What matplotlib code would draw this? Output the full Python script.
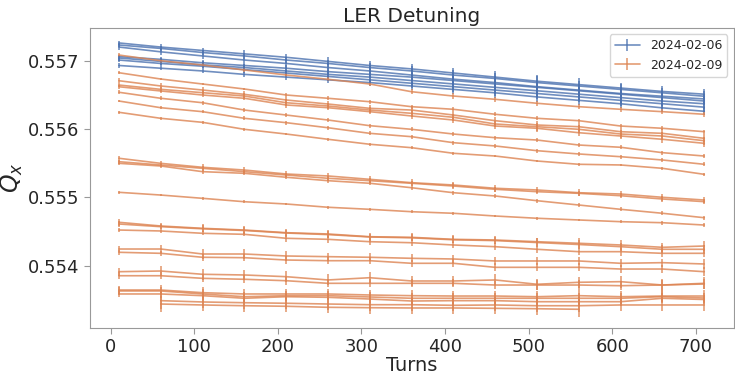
import matplotlib
matplotlib.use("Agg")
import matplotlib.pyplot as plt
import seaborn as sns

turns = [10, 60, 110, 160, 210, 260, 310, 360, 410, 460, 510, 560, 610, 660, 710]
turns_late = turns[1:]
turns_short = turns[1:12]

# 2024-02-06 tunes
blue_q = [
    [0.55726, 0.55720, 0.55715, 0.55710, 0.55705, 0.55699, 0.55693, 0.55688, 0.55682, 0.55676, 0.55670, 0.55665, 0.55660, 0.55655, 0.55651],
    [0.55723, 0.55718, 0.55712, 0.55707, 0.55701, 0.55696, 0.55690, 0.55685, 0.55679, 0.55674, 0.55668, 0.55663, 0.55658, 0.55653, 0.55648],
    [0.55720, 0.55713, 0.55707, 0.55701, 0.55696, 0.55690, 0.55685, 0.55679, 0.55673, 0.55668, 0.55662, 0.55657, 0.55652, 0.55648, 0.55644],
    [0.55706, 0.55702, 0.55697, 0.55693, 0.55689, 0.55684, 0.55680, 0.55676, 0.55671, 0.55666, 0.55661, 0.55656, 0.55651, 0.55646, 0.55641],
    [0.55704, 0.55699, 0.55694, 0.55690, 0.55685, 0.55680, 0.55676, 0.55671, 0.55666, 0.55661, 0.55656, 0.55651, 0.55646, 0.55641, 0.55637],
    [0.55701, 0.55696, 0.55692, 0.55687, 0.55682, 0.55677, 0.55672, 0.55667, 0.55662, 0.55657, 0.55652, 0.55647, 0.55642, 0.55637, 0.55632],
    [0.55693, 0.55689, 0.55685, 0.55680, 0.55676, 0.55672, 0.55668, 0.55663, 0.55658, 0.55653, 0.55647, 0.55642, 0.55637, 0.55631, 0.55626],
]
blue_err = [
    [3e-5, 4e-5, 4e-5, 5e-5, 5e-5, 6e-5, 6e-5, 7e-5, 8e-5, 9e-5, 9e-5, 9e-5, 8e-5, 8e-5, 7e-5],
    [3e-5, 4e-5, 4e-5, 4e-5, 5e-5, 5e-5, 6e-5, 7e-5, 8e-5, 8e-5, 9e-5, 8e-5, 8e-5, 7e-5, 7e-5],
    [4e-5, 4e-5, 5e-5, 5e-5, 5e-5, 6e-5, 7e-5, 8e-5, 9e-5, 10e-5, 10e-5, 9e-5, 9e-5, 8e-5, 8e-5],
    [3e-5, 3e-5, 4e-5, 4e-5, 5e-5, 5e-5, 6e-5, 6e-5, 7e-5, 8e-5, 8e-5, 8e-5, 7e-5, 7e-5, 6e-5],
    [4e-5, 5e-5, 5e-5, 5e-5, 6e-5, 6e-5, 7e-5, 8e-5, 9e-5, 10e-5, 9e-5, 9e-5, 8e-5, 8e-5, 8e-5],
    [3e-5, 4e-5, 4e-5, 5e-5, 5e-5, 6e-5, 6e-5, 7e-5, 8e-5, 9e-5, 8e-5, 8e-5, 8e-5, 7e-5, 7e-5],
    [3e-5, 3e-5, 3e-5, 4e-5, 4e-5, 5e-5, 5e-5, 6e-5, 7e-5, 7e-5, 7e-5, 7e-5, 6e-5, 6e-5, 6e-5],
]

# 2024-02-09 tunes
orange_q = [
    [0.557083, 0.557000, 0.556937, 0.556864, 0.556791, 0.556728, 0.556659, 0.556546, 0.556483, 0.556435, 0.556377, 0.556327, 0.556289, 0.556254, 0.556216],
    [0.556824, 0.556732, 0.556659, 0.556586, 0.556498, 0.556450, 0.556400, 0.556327, 0.556289, 0.556216, 0.556157, 0.556122, 0.556044, 0.556011, 0.555961],
    [0.556707, 0.556630, 0.556571, 0.556508, 0.556425, 0.556366, 0.556303, 0.556278, 0.556205, 0.556122, 0.556059, 0.556034, 0.555961, 0.555937, 0.555864],
    [0.556644, 0.556581, 0.556532, 0.556483, 0.556385, 0.556337, 0.556278, 0.556230, 0.556172, 0.556074, 0.556034, 0.555996, 0.555927, 0.555898, 0.555829],
    [0.556619, 0.556557, 0.556498, 0.556450, 0.556352, 0.556312, 0.556254, 0.556191, 0.556132, 0.556044, 0.556011, 0.555946, 0.555898, 0.555850, 0.555791],
    [0.556538, 0.556450, 0.556385, 0.556278, 0.556205, 0.556132, 0.556049, 0.555996, 0.555927, 0.555873, 0.555839, 0.555766, 0.555733, 0.555654, 0.555605],
    [0.556410, 0.556312, 0.556254, 0.556157, 0.556093, 0.556019, 0.555937, 0.555888, 0.555800, 0.555752, 0.555683, 0.555635, 0.555595, 0.555547, 0.555484],
    [0.556245, 0.556157, 0.556098, 0.555996, 0.555927, 0.555850, 0.555777, 0.555727, 0.555645, 0.555605, 0.555532, 0.555484, 0.555474, 0.555425, 0.555337],
    [0.555572, 0.555498, 0.555440, 0.555400, 0.555342, 0.555313, 0.555264, 0.555215, 0.555181, 0.555133, 0.555108, 0.555068, 0.555049, 0.555001, 0.554961],
    [0.555522, 0.555474, 0.555425, 0.555376, 0.555327, 0.555279, 0.555244, 0.555206, 0.555166, 0.555118, 0.555083, 0.555059, 0.555024, 0.554976, 0.554937],
    [0.555498, 0.555459, 0.555376, 0.555352, 0.555294, 0.555244, 0.555206, 0.555141, 0.555068, 0.555020, 0.554951, 0.554888, 0.554825, 0.554767, 0.554702],
    [0.555074, 0.555034, 0.554986, 0.554936, 0.554903, 0.554855, 0.554825, 0.554790, 0.554767, 0.554727, 0.554694, 0.554669, 0.554644, 0.554629, 0.554595],
    [0.554635, 0.554581, 0.554547, 0.554522, 0.554483, 0.554464, 0.554424, 0.554415, 0.554386, 0.554376, 0.554351, 0.554328, 0.554303, 0.554269, 0.554288],
    [0.554610, 0.554571, 0.554540, 0.554515, 0.554478, 0.554455, 0.554420, 0.554408, 0.554379, 0.554367, 0.554339, 0.554310, 0.554278, 0.554240, 0.554240],
    [0.554522, 0.554508, 0.554474, 0.554459, 0.554401, 0.554386, 0.554351, 0.554336, 0.554303, 0.554278, 0.554240, 0.554205, 0.554205, 0.554181, 0.554181],
    [0.554244, 0.554244, 0.554171, 0.554171, 0.554142, 0.554132, 0.554123, 0.554108, 0.554098, 0.554069, 0.554069, 0.554069, 0.554035, 0.554044, 0.554025],
    [0.554196, 0.554181, 0.554123, 0.554117, 0.554083, 0.554073, 0.554073, 0.554035, 0.554035, 0.553976, 0.553976, 0.553976, 0.553951, 0.553951, 0.553912],
    [0.553912, 0.553922, 0.553874, 0.553864, 0.553839, 0.553791, 0.553824, 0.553776, 0.553776, 0.553791, 0.553728, 0.553757, 0.553766, 0.553717, 0.553742],
    [0.553853, 0.553853, 0.553815, 0.553801, 0.553780, 0.553742, 0.553742, 0.553742, 0.553742, 0.553717, 0.553717, 0.553717, 0.553707, 0.553717, 0.553732],
    [0.553644, 0.553644, 0.553605, 0.553586, 0.553586, 0.553586, 0.553571, 0.553561, 0.553556, 0.553556, 0.553546, 0.553561, 0.553546, 0.553556, 0.553556],
    [0.553630, 0.553630, 0.553586, 0.553546, 0.553561, 0.553561, 0.553542, 0.553523, 0.553523, 0.553523, 0.553523, 0.553523, 0.553523, 0.553546, 0.553527],
    [0.553586, 0.553586, 0.553561, 0.553523, 0.553546, 0.553537, 0.553512, 0.553483, 0.553488, 0.553488, 0.553473, 0.553473, 0.553473, 0.553523, 0.553505],
]
orange_err = [
    [3e-5, 3e-5, 3e-5, 3e-5, 3e-5, 3e-5, 3e-5, 4e-5, 4e-5, 4e-5, 4e-5, 4e-5, 4e-5, 4e-5, 4e-5],
    [2e-5, 2e-5, 2e-5, 2e-5, 3e-5, 3e-5, 3e-5, 3e-5, 3e-5, 3e-5, 3e-5, 3e-5, 3e-5, 3e-5, 3e-5],
    [4e-5, 4e-5, 5e-5, 5e-5, 5e-5, 5e-5, 5e-5, 6e-5, 6e-5, 6e-5, 6e-5, 6e-5, 6e-5, 6e-5, 6e-5],
    [3e-5, 4e-5, 4e-5, 4e-5, 5e-5, 5e-5, 5e-5, 5e-5, 5e-5, 5e-5, 6e-5, 6e-5, 6e-5, 6e-5, 6e-5],
    [3e-5, 3e-5, 3e-5, 3e-5, 4e-5, 4e-5, 4e-5, 4e-5, 5e-5, 5e-5, 5e-5, 5e-5, 5e-5, 5e-5, 5e-5],
    [3e-5, 3e-5, 3e-5, 3e-5, 3e-5, 3e-5, 3e-5, 3e-5, 3e-5, 3e-5, 3e-5, 3e-5, 3e-5, 3e-5, 3e-5],
    [2e-5, 2e-5, 2e-5, 3e-5, 3e-5, 3e-5, 3e-5, 3e-5, 3e-5, 3e-5, 3e-5, 3e-5, 3e-5, 3e-5, 3e-5],
    [2e-5, 2e-5, 2e-5, 2e-5, 2e-5, 2e-5, 2e-5, 2e-5, 2e-5, 2e-5, 2e-5, 2e-5, 2e-5, 2e-5, 2e-5],
    [4e-5, 4e-5, 5e-5, 5e-5, 4e-5, 4e-5, 5e-5, 5e-5, 5e-5, 5e-5, 5e-5, 5e-5, 5e-5, 5e-5, 5e-5],
    [3e-5, 3e-5, 3e-5, 3e-5, 3e-5, 4e-5, 4e-5, 4e-5, 4e-5, 4e-5, 4e-5, 4e-5, 4e-5, 4e-5, 4e-5],
    [3e-5, 3e-5, 3e-5, 3e-5, 3e-5, 3e-5, 3e-5, 3e-5, 3e-5, 3e-5, 3e-5, 3e-5, 3e-5, 3e-5, 3e-5],
    [2e-5, 2e-5, 2e-5, 2e-5, 2e-5, 2e-5, 2e-5, 2e-5, 2e-5, 2e-5, 2e-5, 2e-5, 2e-5, 3e-5, 3e-5],
    [5e-5, 5e-5, 6e-5, 6e-5, 6e-5, 6e-5, 6e-5, 6e-5, 6e-5, 6e-5, 6e-5, 7e-5, 7e-5, 7e-5, 7e-5],
    [4e-5, 4e-5, 5e-5, 5e-5, 5e-5, 5e-5, 5e-5, 5e-5, 5e-5, 5e-5, 6e-5, 6e-5, 6e-5, 6e-5, 6e-5],
    [3e-5, 3e-5, 3e-5, 3e-5, 5e-5, 5e-5, 5e-5, 5e-5, 5e-5, 5e-5, 5e-5, 5e-5, 6e-5, 6e-5, 6e-5],
    [5e-5, 6e-5, 7e-5, 7e-5, 7e-5, 6e-5, 6e-5, 6e-5, 6e-5, 6e-5, 6e-5, 6e-5, 6e-5, 6e-5, 7e-5],
    [4e-5, 4e-5, 5e-5, 5e-5, 6e-5, 5e-5, 5e-5, 5e-5, 6e-5, 6e-5, 6e-5, 6e-5, 6e-5, 6e-5, 7e-5],
    [6e-5, 7e-5, 8e-5, 8e-5, 8e-5, 8e-5, 8e-5, 8e-5, 8e-5, 8e-5, 8e-5, 8e-5, 9e-5, 9e-5, 9e-5],
    [5e-5, 5e-5, 6e-5, 6e-5, 6e-5, 6e-5, 6e-5, 6e-5, 6e-5, 6e-5, 7e-5, 7e-5, 7e-5, 7e-5, 8e-5],
    [6e-5, 7e-5, 8e-5, 8e-5, 8e-5, 8e-5, 8e-5, 8e-5, 8e-5, 8e-5, 9e-5, 9e-5, 9e-5, 9e-5, 9e-5],
    [6e-5, 6e-5, 7e-5, 7e-5, 7e-5, 7e-5, 7e-5, 7e-5, 8e-5, 8e-5, 8e-5, 8e-5, 8e-5, 8e-5, 8e-5],
    [5e-5, 6e-5, 6e-5, 6e-5, 6e-5, 6e-5, 6e-5, 6e-5, 6e-5, 6e-5, 7e-5, 7e-5, 7e-5, 7e-5, 7e-5],
]

# two scans that start at turn 60
orange_late_q = [0.553488, 0.553469, 0.553458, 0.553450, 0.553439, 0.553429, 0.553429, 0.553420, 0.553425, 0.553414, 0.553414, 0.553425, 0.553425, 0.553425]
orange_late_err = [12e-5, 9e-5, 9e-5, 9e-5, 9e-5, 9e-5, 9e-5, 9e-5, 9e-5, 9e-5, 9e-5, 9e-5, 9e-5, 9e-5]
orange_short_q = [0.553439, 0.553425, 0.553414, 0.553406, 0.553391, 0.553385, 0.553381, 0.553381, 0.553376, 0.553370, 0.553362]
orange_short_err = [12e-5, 9e-5, 9e-5, 9e-5, 9e-5, 9e-5, 9e-5, 9e-5, 9e-5, 9e-5, 11e-5]

sns.set_style("ticks")
blue, orange = sns.color_palette("deep")[:2]

fig = plt.figure(figsize=(7.35, 3.74), dpi=100)
ax = fig.add_axes([0.122, 0.123, 0.876, 0.802])

style = dict(alpha=0.8, lw=1.2, elinewidth=1.2, capsize=0)

for i, (q, err) in enumerate(zip(blue_q, blue_err)):
    ax.errorbar(turns, q, yerr=err, color=blue,
                label="2024-02-06" if i == 0 else None, **style)

for i, (q, err) in enumerate(zip(orange_q, orange_err)):
    ax.errorbar(turns, q, yerr=err, color=orange,
                label="2024-02-09" if i == 0 else None, **style)

ax.errorbar(turns_late, orange_late_q, yerr=orange_late_err, color=orange, **style)
ax.errorbar(turns_short, orange_short_q, yerr=orange_short_err, color=orange, **style)

ax.set_xlim(-25, 745)
ax.set_ylim(0.553088, 0.557478)
ax.set_yticks([0.554, 0.555, 0.556, 0.557])

for s in ax.spines.values():
    s.set_color("#999999")
ax.tick_params(colors="#999999", labelcolor="#262626", labelsize=13, length=4)

ax.set_title("LER Detuning", fontsize=14.5, color="#262626", pad=4)
ax.set_xlabel("Turns", fontsize=14, color="#262626", labelpad=0)
ax.set_ylabel("$Q_x$", fontsize=17, color="#262626", labelpad=2)

ax.legend(loc="upper right", fontsize=9)

fig.savefig("out.png", dpi=100)
